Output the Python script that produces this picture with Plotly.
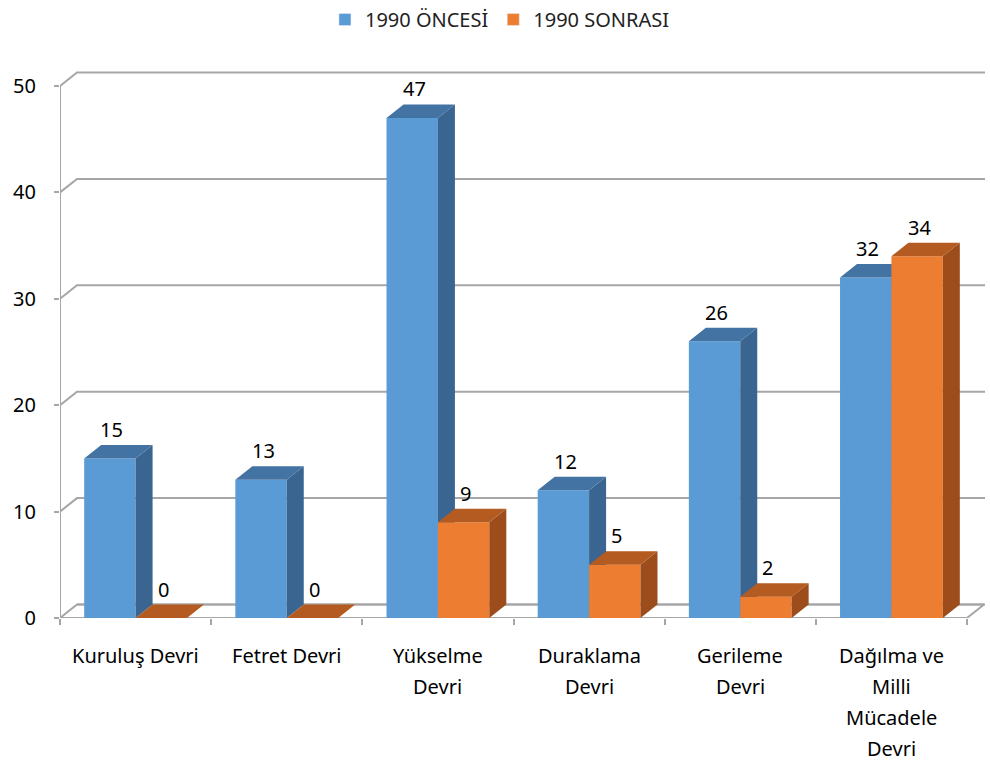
import plotly.graph_objects as go

categories = ["Kuruluş Devri", "Fetret Devri", "Yükselme<br>Devri", "Duraklama<br>Devri",
              "Gerileme<br>Devri", "Dağılma ve<br>Milli<br>Mücadele<br>Devri"]
series_names = ["1990 ÖNCESİ", "1990 SONRASI"]
before_1990 = [15, 13, 47, 12, 26, 32]
after_1990 = [0, 0, 9, 5, 2, 34]
y_ticks = [0, 10, 20, 30, 40, 50]

FONT = "Noto Sans"
W, H = 990, 764
ML, MR, MT, MB = 60, 5, 60, 146
PX_X = (967 - 60) / 6.0
PX_Y = (618.5 - 86.5) / 50.0
XMAX = (W - ML - MR) / PX_X
YMAX = (H - MT - MB) / PX_Y
DX = 17 / PX_X
DY = 13.5 / PX_Y
BW = 0.34
GRID = "#a6a6a6"

colors = {
    "front": ["#5b9bd5", "#ed7d31"],
    "top": ["#4373a3", "#b45b21"],
    "side": ["#3a6590", "#9c4d1b"],
}

fig = go.Figure()

# back wall / side wall gridlines
gx, gy = [], []
for t in y_ticks:
    gx += [0, DX, XMAX, None]
    gy += [t, t + DY, t + DY, None]
n = len(categories)
# floor
gx += [0, n, n + DX, DX, None]
gy += [0, 0, DY, DY, None]
# front vertical axis line
gx += [0, 0, None]
gy += [0, y_ticks[-1], None]
fig.add_trace(go.Scatter(x=gx, y=gy, mode="lines", line=dict(color=GRID, width=2),
                         hoverinfo="skip", showlegend=False))

for s, vals in enumerate([before_1990, after_1990]):
    fx, fy, sx, sy, tx, ty = [], [], [], [], [], []
    for i, v in enumerate(vals):
        c = i + 0.5
        x0 = c - BW if s == 0 else c
        x1 = x0 + BW
        fx += [x0, x1, x1, x0, x0, None]
        fy += [0, 0, v, v, 0, None]
        sx += [x1, x1 + DX, x1 + DX, x1, x1, None]
        sy += [0, DY, v + DY, v, 0, None]
        tx += [x0, x1, x1 + DX, x0 + DX, x0, None]
        ty += [v, v, v + DY, v + DY, v, None]
    for xs, ys, key in [(fx, fy, "front"), (sx, sy, "side"), (tx, ty, "top")]:
        fig.add_trace(go.Scatter(x=xs, y=ys, mode="lines", fill="toself",
                                 fillcolor=colors[key][s], line=dict(width=0, color=colors[key][s]),
                                 hoverinfo="skip", showlegend=False))
    # legend entry
    fig.add_trace(go.Bar(x=[None], y=[None], name=series_names[s],
                         marker=dict(color=colors["front"][s]), showlegend=True))
    # value labels
    for i, v in enumerate(vals):
        c = i + 0.5
        xc = c - BW / 2 if s == 0 else c + BW / 2
        fig.add_annotation(x=xc, y=v + DY, text=str(v), showarrow=False,
                           xanchor="center", yanchor="bottom", xshift=2, yshift=0,
                           font=dict(family=FONT, size=20, color="#000000"))

# category labels (one annotation per line for wide line spacing)
for i, cat in enumerate(categories):
    for j, line in enumerate(cat.split("<br>")):
        fig.add_annotation(x=i + 0.5, y=0, text=line, showarrow=False,
                           xanchor="center", yanchor="middle", yshift=-37 - 31 * j,
                           font=dict(family=FONT, size=20, color="#000000"))

fig.update_layout(
    width=W, height=H,
    margin=dict(l=ML, r=MR, t=MT, b=MB),
    paper_bgcolor="white", plot_bgcolor="white",
    barmode="overlay",
    font=dict(family=FONT, size=20, color="#000000"),
    legend=dict(orientation="h", xref="container", yref="container",
                x=0.505, y=1.0, xanchor="center", yanchor="top",
                font=dict(family=FONT, size=20, color="#222222"),
                itemwidth=30, bgcolor="rgba(0,0,0,0)"),
    xaxis=dict(range=[0, XMAX], showgrid=False, zeroline=False, showline=False,
               tickmode="array", tickvals=list(range(n + 1)), ticktext=[""] * (n + 1),
               ticks="outside", ticklen=6, tickwidth=2, tickcolor=GRID,
               showticklabels=False, fixedrange=True),
    yaxis=dict(range=[0, YMAX], showgrid=False, zeroline=False, showline=False,
               tickmode="array", tickvals=y_ticks, ticktext=[str(t) for t in y_ticks],
               ticks="outside", ticklen=5, tickwidth=2, tickcolor=GRID,
               ticklabelstandoff=14,
               tickfont=dict(family=FONT, size=20, color="#000000"), fixedrange=True),
)

fig.write_html("out.html")
